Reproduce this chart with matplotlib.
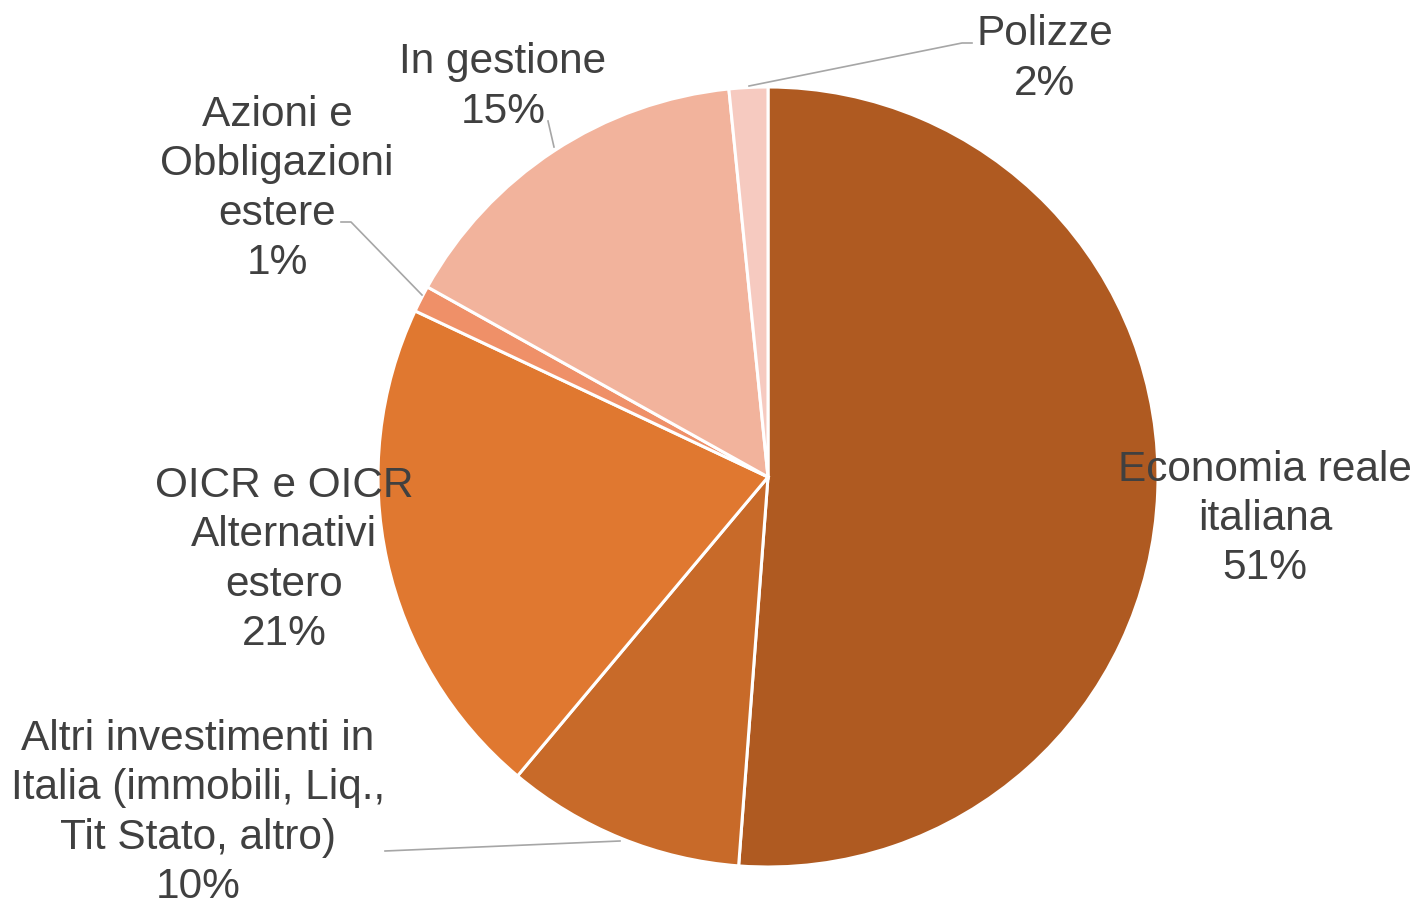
import matplotlib.pyplot as plt

plt.rcParams['font.family'] = ['Liberation Sans', 'DejaVu Sans']

labels = ['Economia reale\nitaliana', 'Altri investimenti in\nItalia (immobili, Liq.,\nTit Stato, altro)',
          'OICR e OICR\nAlternativi\nestero', 'Azioni e\nObbligazioni\nestere', 'In gestione', 'Polizze']
values = [51.2, 9.9, 20.9, 1.1, 15.3, 1.6]
pct_text = ['51%', '10%', '21%', '1%', '15%', '2%']
colors = ['#AF5A21', '#C86A29', '#E07830', '#EF9068', '#F2B39C', '#F6CAC0']

# label centres in pixel coords (y from top)
label_pos = [(1265, 519), (198, 813), (284, 560), (277, 189), (503, 87), (1045, 59)]
# leader lines (pixel coords), None if no line
leaders = [None,
           [(620, 842), (385, 852)],
           None,
           [(422, 296), (351, 223), (341, 223)],
           [(554, 148), (548, 122)],
           [(749, 87), (962, 44), (972, 44)]]

W, H = 1417, 903
fig = plt.figure(figsize=(W / 100, H / 100), dpi=100)
ax = fig.add_axes([0, 0, 1, 1])
ax.set_xlim(0, W)
ax.set_ylim(0, H)
ax.axis('off')

ax.pie(values, colors=colors, startangle=90, counterclock=False,
       center=(768, H - 478), radius=390,
       wedgeprops=dict(edgecolor='white', linewidth=2.2))
ax.set_xlim(0, W)
ax.set_ylim(0, H)
ax.set_aspect('equal')

for lab, pct, (x, y), ld in zip(labels, pct_text, label_pos, leaders):
    if ld is not None:
        ax.plot([p[0] for p in ld], [H - p[1] for p in ld], color='#A6A6A6', lw=1.2, zorder=3)
    ax.text(x, H - y, lab + '\n' + pct, ha='center', va='center', fontsize=30.5,
            color='#404040', linespacing=1.3, zorder=4)

fig.savefig('out.png', dpi=100)
